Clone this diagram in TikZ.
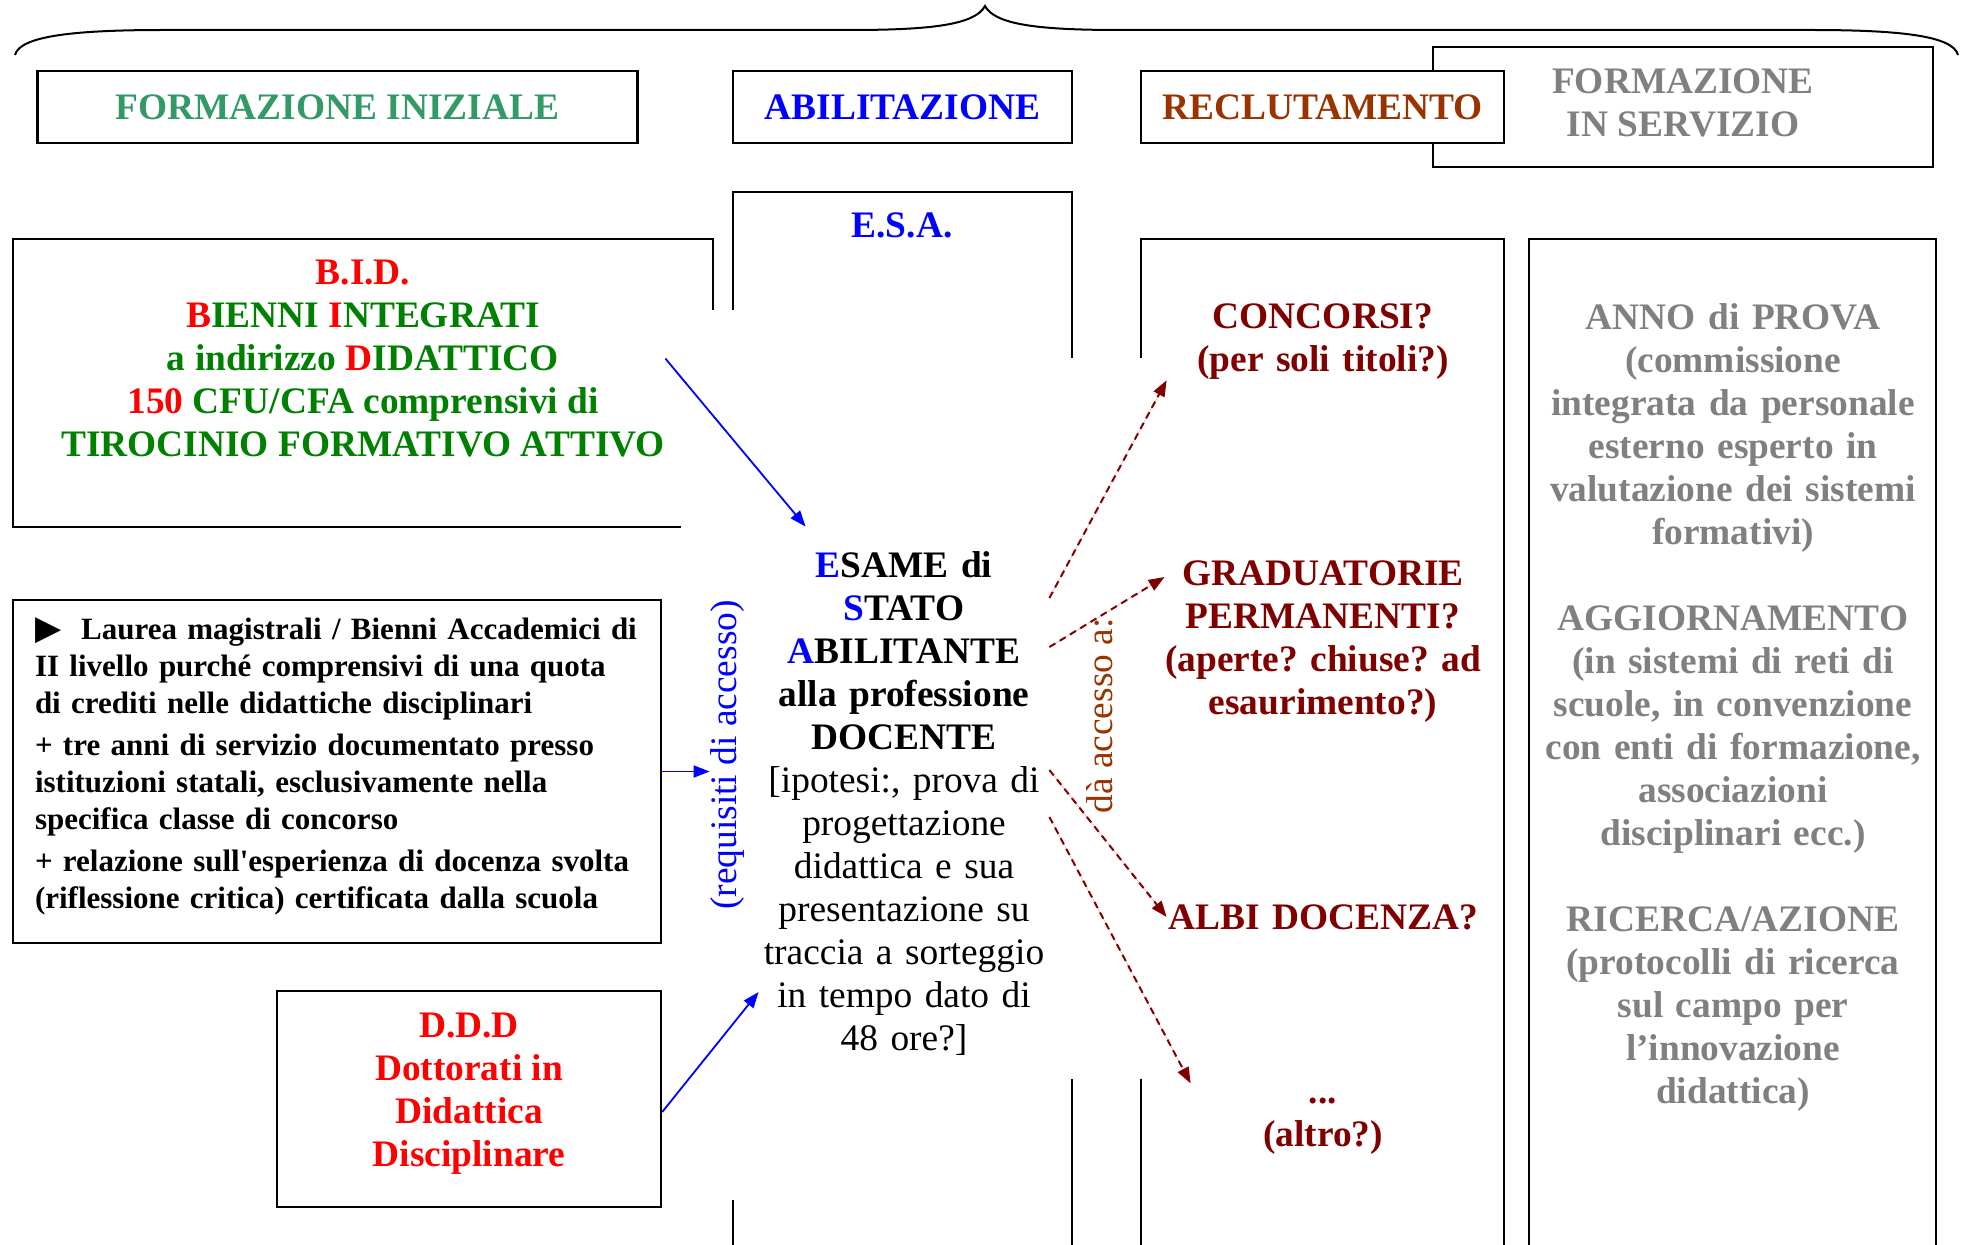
\documentclass[tikz,border=0pt]{standalone}
\usepackage{fontspec}
\setmainfont{Liberation Serif}
\newfontfamily\symfont{DejaVu Sans}
\usetikzlibrary{arrows.meta}
\definecolor{fiGreen}{RGB}{51,153,102}
\definecolor{bidGreen}{RGB}{0,128,0}
\definecolor{recBrown}{RGB}{153,51,0}
\definecolor{darkRed}{RGB}{128,0,0}
\definecolor{servGray}{RGB}{128,128,128}
\newcommand\bigtxt{\fontsize{18.7}{21.5}\selectfont}
\newcommand\smalltxt{\fontsize{15.5}{18.5}\selectfont}
\newcommand\straightq{\XeTeXglyph\XeTeXcharglyph"27\relax}
\frenchspacing

\begin{document}
\begin{tikzpicture}[x=0.5pt, y=-0.5pt, >={Triangle[length=8pt,width=6pt]},
  hdr/.style={draw, line width=1.2pt, fill=white, minimum height=36pt, inner sep=0pt, align=center, font=\bigtxt\bfseries},
  txt/.style={inner sep=0pt, align=center, font=\bigtxt\bfseries},
  col/.style={line width=1.2pt},
  blu/.style={->, draw=blue, line width=0.9pt},
  dsh/.style={->, draw=darkRed, fill=darkRed, line width=1pt, dash pattern=on 3.5pt off 2.5pt}]
\useasboundingbox (0, 0) rectangle (1962, 1245);

\draw [line width=1pt] (15, 55) .. controls (20, 35) and (80, 30) .. (165, 30) -- (850, 30) .. controls (930, 30) and (975, 25) .. (985, 6) .. controls (995, 25) and (1040, 30) .. (1120, 30) -- (1810, 30) .. controls (1895, 30) and (1953, 35) .. (1958, 55);

\node at (1683, 107) [hdr, minimum width=250pt, minimum height=60pt, text depth=4pt, text=servGray] (serv) {FORMAZIONE\\IN SERVIZIO};
\node at (337.5, 107) [hdr, minimum width=300pt, text=fiGreen] (fi) {FORMAZIONE INIZIALE};
\node at (902.5, 107) [hdr, minimum width=169.5pt, text=blue] (abil) {ABILITAZIONE};
\node at (1322.5, 107) [hdr, minimum width=181.5pt, text=recBrown] (recl) {RECLUTAMENTO};

\draw [col] (681, 527) -- (13, 527) -- (13, 239) -- (713, 239) -- (713, 310);
\draw [col] (733, 310) |- (1072, 192) -- (1072, 358);
\draw [col] (733, 1200) -- (733, 1245);
\draw [col] (1072, 1079) -- (1072, 1245);
\draw [col] (1141, 358) |- (1504, 239) -- (1504, 1245);
\draw [col] (1141, 1079) -- (1141, 1245);
\draw [col] (1529, 1245) |- (1936, 239) -- (1936, 1245);

\node at (363, 358.5) [txt, text=bidGreen] (bid) {\textcolor{red}{B.I.D.}\\\textcolor{red}{B}IENNI \textcolor{red}{I}NTEGRATI\\a indirizzo \textcolor{red}{D}IDATTICO\\\textcolor{red}{150} CFU/CFA comprensivi di\\TIROCINIO FORMATIVO ATTIVO};
\node at (337, 771.5) [draw, line width=1.2pt, minimum width=324pt, minimum height=171.5pt, inner xsep=11pt, inner ysep=0pt, text width=302pt, text depth=142.5pt, align=left, font=\smalltxt\bfseries] (lau) {{\symfont\fontsize{17}{17}\selectfont ▶}\hspace{10pt}Laurea magistrali / Bienni Accademici di\\II livello purché comprensivi di una quota\\di crediti nelle didattiche disciplinari\\[2.5pt]+ tre anni di servizio documentato presso\\istituzioni statali, esclusivamente nella\\specifica classe di concorso\\[2.5pt]+ relazione sull\straightq esperienza di docenza svolta\\(riflessione critica) certificata dalla scuola};
\node at (469, 1099) [draw, line width=1.2pt, minimum width=192pt, minimum height=108pt, txt, text depth=9pt, text=red] (ddd) {D.D.D\\Dottorati in\\Didattica\\Disciplinare};

\node at (902, 225) [txt, text=blue] (esa) {E.S.A.};
\node at (904, 804) [txt, text width=145pt, minimum height=277pt] (esame) {\textcolor{blue}{E}SAME di\\\textcolor{blue}{S}TATO\\\textcolor{blue}{A}BILITANTE\\alla professione\\DOCENTE\\\mdseries [ipotesi:, prova di\\progettazione\\didattica e sua\\presentazione su\\traccia a sorteggio\\in tempo dato di\\48 ore?]};
\node at (727, 755) [rotate=90, inner sep=0pt, text=blue, font=\bigtxt] (req) {(requisiti di accesso)};
\node at (1100, 716) [rotate=90, inner sep=0pt, text=recBrown, font=\bigtxt] (daa) {dà accesso a:};

\node at (1323, 342) [txt, text width=176pt, text=darkRed] (conc) {CONCORSI?\\(per soli titoli?)};
\node at (1323, 642) [txt, text width=176pt, text=darkRed] (grad) {GRADUATORIE\\PERMANENTI?\\(aperte? chiuse? ad\\esaurimento?)};
\node at (1323, 917) [txt, text width=176pt, text=darkRed] (albi) {ALBI DOCENZA?};
\node at (1323, 1126) [txt, text width=176pt, text=darkRed] (altro) {...\\(altro?)};

\node at (1733, 708) [txt, text width=190pt, text=servGray] (inserv) {ANNO di PROVA\\(commissione\\integrata da personale\\esterno esperto in\\valutazione dei sistemi\\formativi)\\[21.5pt]AGGIORNAMENTO\\(in sistemi di reti di\\scuole, in convenzione\\con enti di formazione,\\associazioni\\disciplinari ecc.)\\[21.5pt]RICERCA/AZIONE\\(protocolli di ricerca\\sul campo per\\l’innovazione\\didattica)};

\draw [blu] (bid.east) to ([xshift=23.5pt]esame.north west);
\draw [blu] (lau.east) to (lau.east -| req.north);
\draw [blu] ([yshift=-6.5pt]ddd.east) to ([yshift=-94pt]esame.west);
\draw [dsh] ([yshift=103pt]esame.east) to ([xshift=10pt]conc.south west);
\draw [dsh] ([yshift=78.5pt]esame.east) to ([xshift=9pt,yshift=32.5pt]grad.west);
\draw [dsh] ([yshift=17pt]esame.east) to ([xshift=10pt]albi.west);
\draw [dsh] ([yshift=-6.5pt]esame.east) to ([xshift=22pt,yshift=7pt]altro.north west);
\end{tikzpicture}
\end{document}
